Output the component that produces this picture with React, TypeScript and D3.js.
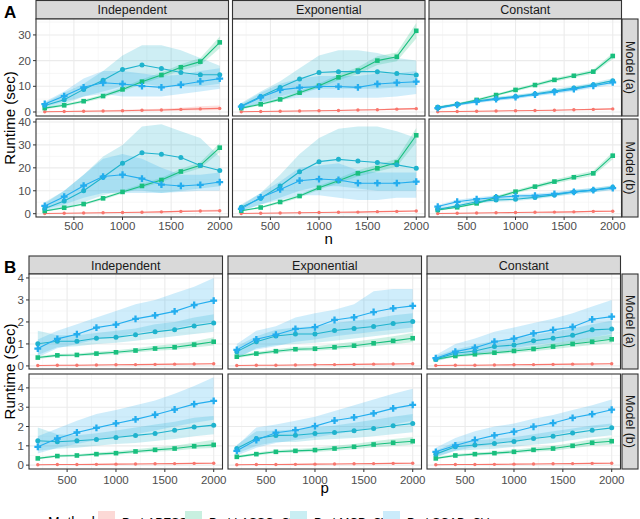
import React from "react";
import * as d3 from "d3";

// x values shared by every panel
const nValues = [200, 400, 600, 800, 1000, 1200, 1400, 1600, 1800, 2000];
const xTicks = [500, 1000, 1500, 2000];
const xMinor = [250, 750, 1250, 1750];
const columns = ["Independent", "Exponential", "Constant"];
const rowLabels = ["Model (a)", "Model (b)"];
const methods = ["ProbAPESS", "ProbLASSO_CV", "ProbMCP_CV", "ProbSCAD_CV"];
const colors = ["#F8766D", "#19BF7E", "#1FB3CD", "#23ADEE"];
const keyFills = ["#FCD9D6", "#C8F0E0", "#C9EEF3", "#CBEBFB"];

const ticksA1 = [0, 10, 20, 30];
const ticksA2 = [0, 10, 20, 30, 40];
const ticksB = [0, 1, 2, 3, 4];

// keys: section_row_column
const bApess = [0.02, 0.03, 0.03, 0.04, 0.05, 0.06, 0.07, 0.08, 0.09, 0.1];
const bApessLo = [0.01, 0.02, 0.02, 0.03, 0.04, 0.04, 0.05, 0.06, 0.07, 0.08];
const bApessHi = [0.03, 0.04, 0.05, 0.06, 0.07, 0.08, 0.09, 0.1, 0.12, 0.13];

const apessMean = {
  A_a_ind: [0.1, 0.2, 0.3, 0.4, 0.5, 0.7, 0.8, 1.0, 1.2, 1.4],
  A_a_exp: [0.1, 0.2, 0.3, 0.4, 0.5, 0.6, 0.8, 0.9, 1.1, 1.3],
  A_a_con: [0.1, 0.2, 0.3, 0.4, 0.5, 0.6, 0.7, 0.9, 1.0, 1.2],
  A_b_ind: [0.1, 0.2, 0.3, 0.4, 0.5, 0.6, 0.8, 1.0, 1.2, 1.3],
  A_b_exp: [0.1, 0.2, 0.3, 0.4, 0.5, 0.6, 0.7, 0.9, 1.0, 1.2],
  A_b_con: [0.1, 0.2, 0.3, 0.4, 0.5, 0.6, 0.7, 0.8, 1.0, 1.1],
  B_a_ind: bApess, B_a_exp: bApess, B_a_con: bApess,
  B_b_ind: bApess, B_b_exp: bApess, B_b_con: bApess,
};
const apessLo = {
  A_a_ind: [0.0, 0.05, 0.1, 0.15, 0.2, 0.3, 0.4, 0.5, 0.6, 0.7],
  A_a_exp: [0, 0.1, 0.2, 0.25, 0.35, 0.45, 0.55, 0.65, 0.8, 0.9],
  A_a_con: [0, 0.1, 0.2, 0.3, 0.4, 0.45, 0.55, 0.7, 0.8, 0.95],
  A_b_ind: [0, 0.1, 0.2, 0.25, 0.35, 0.45, 0.55, 0.7, 0.85, 0.9],
  A_b_exp: [0, 0.1, 0.2, 0.3, 0.35, 0.45, 0.5, 0.65, 0.75, 0.9],
  A_b_con: [0, 0.1, 0.2, 0.3, 0.35, 0.45, 0.5, 0.6, 0.75, 0.85],
  B_a_ind: bApessLo, B_a_exp: bApessLo, B_a_con: bApessLo,
  B_b_ind: bApessLo, B_b_exp: bApessLo, B_b_con: bApessLo,
};
const apessHi = {
  A_a_ind: [0.3, 0.4, 0.6, 0.7, 0.9, 1.1, 1.3, 1.7, 2.2, 2.5],
  A_a_exp: [0.2, 0.35, 0.45, 0.6, 0.7, 0.85, 1.05, 1.2, 1.45, 1.7],
  A_a_con: [0.2, 0.3, 0.4, 0.5, 0.65, 0.75, 0.9, 1.1, 1.25, 1.45],
  A_b_ind: [0.2, 0.35, 0.45, 0.6, 0.7, 0.85, 1.1, 1.4, 1.6, 1.8],
  A_b_exp: [0.2, 0.3, 0.4, 0.55, 0.65, 0.8, 0.95, 1.15, 1.3, 1.5],
  A_b_con: [0.2, 0.3, 0.4, 0.5, 0.65, 0.75, 0.9, 1.0, 1.25, 1.35],
  B_a_ind: bApessHi, B_a_exp: bApessHi, B_a_con: bApessHi,
  B_b_ind: bApessHi, B_b_exp: bApessHi, B_b_con: bApessHi,
};

const lassoMean = {
  A_a_ind: [1.5, 2.6, 4.2, 6.2, 8.8, 11.8, 14.4, 17.4, 19.6, 27.1],
  A_a_exp: [1.5, 3.0, 4.9, 7.5, 10.2, 13.5, 16.1, 20.0, 21.5, 31.6],
  A_a_con: [1.7, 3.0, 4.7, 6.6, 8.6, 10.5, 12.5, 14.1, 15.7, 21.8],
  A_b_ind: [1.2, 2.6, 4.2, 6.7, 9.5, 12.1, 14.7, 18.4, 21.1, 28.8],
  A_b_exp: [1.3, 2.7, 5.1, 7.7, 11.3, 14.4, 17.6, 19.8, 22.3, 34.2],
  A_b_con: [1.6, 2.8, 4.5, 7.1, 9.6, 11.8, 14.0, 15.9, 17.6, 25.3],
  B_a_ind: [0.38, 0.48, 0.5, 0.56, 0.62, 0.7, 0.79, 0.85, 0.97, 1.1],
  B_a_exp: [0.42, 0.56, 0.67, 0.76, 0.78, 0.85, 0.92, 1.03, 1.14, 1.26],
  B_a_con: [0.3, 0.45, 0.53, 0.6, 0.68, 0.77, 0.88, 1.0, 1.1, 1.21],
  B_b_ind: [0.35, 0.47, 0.5, 0.57, 0.62, 0.71, 0.79, 0.86, 0.98, 1.05],
  B_b_exp: [0.43, 0.57, 0.69, 0.74, 0.78, 0.86, 0.95, 1.07, 1.16, 1.24],
  B_b_con: [0.35, 0.5, 0.57, 0.62, 0.69, 0.79, 0.86, 1.0, 1.16, 1.24],
};
const lassoLo = {
  A_a_ind: [1.1, 2.1, 3.6, 5.5, 8.0, 10.9, 13.4, 16.2, 18.2, 24.8],
  A_a_exp: [1.1, 2.5, 4.3, 6.8, 9.3, 12.4, 14.8, 18.3, 19.8, 28.6],
  A_a_con: [1.4, 2.6, 4.2, 6.1, 8.0, 9.9, 11.8, 13.4, 14.9, 20.6],
  A_b_ind: [0.9, 2.2, 3.7, 6.1, 8.8, 11.3, 13.7, 17.2, 19.8, 26.8],
  A_b_exp: [1.0, 2.3, 4.5, 7.0, 10.4, 13.3, 16.2, 18.3, 20.6, 31.0],
  A_b_con: [1.3, 2.4, 4.0, 6.5, 8.9, 11.0, 13.1, 14.9, 16.5, 23.8],
  B_a_ind: [0.32, 0.42, 0.44, 0.49, 0.54, 0.61, 0.69, 0.74, 0.84, 0.93],
  B_a_exp: [0.36, 0.49, 0.59, 0.67, 0.69, 0.75, 0.81, 0.9, 0.99, 1.08],
  B_a_con: [0.25, 0.39, 0.46, 0.52, 0.59, 0.67, 0.76, 0.86, 0.95, 1.03],
  B_b_ind: [0.3, 0.41, 0.44, 0.5, 0.54, 0.62, 0.69, 0.75, 0.85, 0.89],
  B_b_exp: [0.37, 0.5, 0.61, 0.65, 0.68, 0.75, 0.82, 0.92, 0.99, 1.05],
  B_b_con: [0.3, 0.43, 0.5, 0.54, 0.6, 0.69, 0.75, 0.87, 1.0, 1.06],
};
const lassoHi = {
  A_a_ind: [1.9, 3.1, 4.8, 6.9, 9.6, 12.7, 15.4, 18.6, 21.0, 29.4],
  A_a_exp: [1.9, 3.5, 5.5, 8.2, 11.1, 14.6, 17.4, 21.7, 23.2, 34.6],
  A_a_con: [2.0, 3.4, 5.2, 7.1, 9.2, 11.1, 13.2, 14.8, 16.5, 23.0],
  A_b_ind: [1.5, 3.0, 4.7, 7.3, 10.2, 12.9, 15.7, 19.6, 22.4, 30.8],
  A_b_exp: [1.6, 3.1, 5.7, 8.4, 12.2, 15.5, 19.0, 21.3, 24.0, 37.4],
  A_b_con: [1.9, 3.2, 5.0, 7.7, 10.3, 12.6, 14.9, 16.9, 18.7, 26.8],
  B_a_ind: [0.44, 0.54, 0.57, 0.64, 0.71, 0.8, 0.92, 1.0, 1.12, 1.3],
  B_a_exp: [0.48, 0.63, 0.76, 0.86, 0.9, 1.0, 1.1, 1.22, 1.35, 1.5],
  B_a_con: [0.35, 0.52, 0.61, 0.69, 0.79, 0.9, 1.03, 1.17, 1.3, 1.42],
  B_b_ind: [0.41, 0.54, 0.57, 0.65, 0.72, 0.82, 0.92, 1.01, 1.16, 1.32],
  B_b_exp: [0.5, 0.65, 0.78, 0.84, 0.9, 1.0, 1.1, 1.24, 1.36, 1.46],
  B_b_con: [0.41, 0.58, 0.65, 0.71, 0.8, 0.91, 1.0, 1.16, 1.34, 1.44],
};

const mcpMean = {
  A_a_ind: [2.5, 4.8, 8.8, 12.4, 16.5, 18.3, 16.9, 15.4, 14.5, 14.5],
  A_a_exp: [2.3, 6.0, 9.5, 12.8, 15.4, 15.7, 15.7, 15.7, 15.0, 14.4],
  A_a_con: [1.8, 3.0, 4.3, 5.2, 6.0, 7.0, 8.2, 9.3, 10.6, 12.2],
  A_b_ind: [2.3, 5.5, 10.0, 15.9, 22.0, 26.6, 25.9, 24.5, 21.0, 18.8],
  A_b_exp: [2.8, 6.7, 12.1, 18.3, 22.7, 23.7, 23.0, 22.3, 21.3, 19.8],
  A_b_con: [1.9, 3.4, 5.2, 6.0, 6.3, 7.1, 8.2, 9.5, 10.3, 11.5],
  B_a_ind: [1.01, 1.12, 1.12, 1.26, 1.3, 1.42, 1.55, 1.65, 1.82, 1.95],
  B_a_exp: [0.65, 1.1, 1.36, 1.45, 1.45, 1.61, 1.7, 1.79, 1.93, 2.02],
  B_a_con: [0.32, 0.58, 0.68, 0.88, 0.95, 1.14, 1.26, 1.39, 1.64, 1.68],
  B_b_ind: [1.26, 1.21, 1.26, 1.33, 1.43, 1.54, 1.64, 1.81, 1.97, 2.07],
  B_b_exp: [0.86, 1.38, 1.54, 1.55, 1.64, 1.69, 1.78, 1.9, 2.04, 2.16],
  B_b_con: [0.57, 0.95, 1.04, 1.12, 1.23, 1.38, 1.5, 1.66, 1.81, 1.93],
};
const mcpLo = {
  A_a_ind: [1.5, 3, 6, 8, 10, 11, 10, 10, 10, 11],
  A_a_exp: [1.2, 3.5, 6, 8, 9, 9, 9, 9, 9.5, 9.5],
  A_a_con: [1.3, 2.5, 3.7, 4.6, 5.3, 6.3, 7.4, 8.5, 9.8, 11.3],
  A_b_ind: [1, 2.5, 5, 8, 10, 10, 9, 10, 11, 12],
  A_b_exp: [1.5, 4, 7, 10, 12, 12, 11, 10, 10, 10],
  A_b_con: [1.3, 2.7, 4.4, 5.2, 5.5, 6.3, 7.4, 8.6, 9.4, 10.6],
  B_a_ind: [0.5, 0.85, 0.9, 1.0, 1.05, 1.15, 1.25, 1.35, 1.45, 1.55],
  B_a_exp: [0.35, 0.8, 0.95, 1.0, 1.05, 1.15, 1.25, 1.35, 1.45, 1.55],
  B_a_con: [0.2, 0.45, 0.5, 0.6, 0.7, 0.8, 0.9, 1.0, 1.15, 1.25],
  B_b_ind: [0.75, 0.85, 0.9, 1.0, 1.1, 1.15, 1.25, 1.35, 1.5, 1.6],
  B_b_exp: [0.6, 1.0, 1.2, 1.2, 1.3, 1.35, 1.4, 1.5, 1.6, 1.7],
  B_b_con: [0.4, 0.75, 0.8, 0.85, 0.95, 1.05, 1.15, 1.3, 1.45, 1.55],
};
const mcpHi = {
  A_a_ind: [3.5, 7.5, 11, 16, 22, 26, 26, 24, 21, 18],
  A_a_exp: [3.5, 8, 12, 17, 22, 24, 24, 23, 21, 20],
  A_a_con: [2.3, 3.5, 4.9, 5.9, 6.7, 7.7, 9.0, 10.1, 11.4, 13.1],
  A_b_ind: [5, 10, 17, 25, 30, 38, 39, 36, 33, 25],
  A_b_exp: [4, 9, 17, 26, 33, 37, 38, 38, 36, 33],
  A_b_con: [2.5, 4.1, 6.0, 6.8, 7.1, 7.9, 9.0, 10.4, 11.2, 12.4],
  B_a_ind: [1.6, 1.4, 1.4, 1.5, 1.6, 1.7, 1.9, 2.0, 2.2, 2.35],
  B_a_exp: [0.9, 1.35, 1.65, 1.75, 1.8, 1.95, 2.05, 2.15, 2.3, 2.4],
  B_a_con: [0.45, 0.75, 0.95, 1.15, 1.25, 1.4, 1.55, 1.7, 1.9, 2.05],
  B_b_ind: [1.95, 1.6, 1.55, 1.65, 1.8, 1.95, 2.1, 2.25, 2.45, 2.55],
  B_b_exp: [1.05, 1.75, 1.8, 1.85, 1.95, 2.05, 2.2, 2.35, 2.5, 2.65],
  B_b_con: [0.75, 1.2, 1.3, 1.35, 1.45, 1.6, 1.75, 1.9, 2.05, 2.15],
};

const scadMean = {
  A_a_ind: [3.1, 6.2, 9.6, 11.4, 10.9, 10.1, 9.6, 10.6, 11.9, 13.0],
  A_a_exp: [2.1, 5.7, 8.6, 9.5, 9.9, 9.9, 9.6, 10.9, 11.4, 11.8],
  A_a_con: [1.5, 2.8, 4.0, 5.0, 5.8, 6.8, 7.8, 8.9, 10.2, 11.5],
  A_b_ind: [3.4, 7.4, 12.2, 16.2, 17.0, 15.3, 12.7, 12.1, 12.6, 13.8],
  A_b_exp: [2.1, 7.1, 10.6, 14.4, 15.1, 14.7, 13.3, 13.3, 13.3, 14.0],
  A_b_con: [3.1, 5.2, 6.3, 7.1, 7.7, 7.9, 8.6, 9.5, 10.3, 11.2],
  B_a_ind: [0.79, 1.23, 1.44, 1.74, 1.88, 2.14, 2.3, 2.48, 2.77, 2.97],
  B_a_exp: [0.73, 1.21, 1.42, 1.68, 1.76, 2.09, 2.21, 2.45, 2.62, 2.73],
  B_a_con: [0.35, 0.65, 0.83, 1.1, 1.24, 1.48, 1.64, 1.77, 2.12, 2.24],
  B_b_ind: [0.95, 1.38, 1.69, 1.93, 2.16, 2.37, 2.61, 2.88, 3.16, 3.33],
  B_b_exp: [0.74, 1.3, 1.68, 1.81, 2.02, 2.31, 2.47, 2.68, 2.94, 3.12],
  B_b_con: [0.69, 1.02, 1.3, 1.54, 1.73, 1.99, 2.18, 2.45, 2.64, 2.87],
};
const scadLo = {
  A_a_ind: [2, 4, 6, 7, 6, 6, 6, 7, 8, 9],
  A_a_exp: [1, 3.5, 5, 5.5, 5.5, 5.5, 5.5, 5.5, 6, 7],
  A_a_con: [1.0, 2.3, 3.4, 4.4, 5.1, 6.1, 7.0, 8.1, 9.3, 10.6],
  A_b_ind: [2, 4, 7, 9, 9, 9, 9, 9.5, 10, 10],
  A_b_exp: [1, 4, 6, 8, 8, 7, 6, 6, 7, 7],
  A_b_con: [2.4, 4.3, 5.4, 6.2, 6.8, 7.0, 7.7, 8.6, 9.4, 10.2],
  B_a_ind: [0.4, 0.8, 1.0, 1.2, 1.3, 1.5, 1.6, 1.7, 1.9, 2.0],
  B_a_exp: [0.4, 0.75, 0.9, 1.1, 1.2, 1.35, 1.45, 1.55, 1.65, 1.75],
  B_a_con: [0.25, 0.45, 0.55, 0.7, 0.8, 0.95, 1.05, 1.15, 1.3, 1.45],
  B_b_ind: [0.6, 0.9, 1.1, 1.3, 1.45, 1.6, 1.8, 2.0, 2.2, 2.35],
  B_b_exp: [0.5, 0.9, 1.15, 1.3, 1.45, 1.6, 1.75, 1.95, 2.1, 2.3],
  B_b_con: [0.45, 0.75, 0.95, 1.1, 1.25, 1.4, 1.55, 1.75, 1.9, 2.05],
};
const scadHi = {
  A_a_ind: [4, 8, 13, 16, 16, 15, 14, 14.5, 16, 17],
  A_a_exp: [3, 7.5, 11, 13, 14, 14, 14, 15, 15, 16],
  A_a_con: [2.0, 3.3, 4.6, 5.6, 6.5, 7.5, 8.6, 9.7, 11.1, 12.4],
  A_b_ind: [4.5, 10, 17, 24, 26, 24, 20, 17, 17, 18],
  A_b_exp: [3.5, 9, 14, 20, 21, 22, 19, 18, 18, 18],
  A_b_con: [3.8, 6.1, 7.2, 8.0, 8.6, 8.8, 9.5, 10.4, 11.2, 12.2],
  B_a_ind: [1.2, 1.6, 1.9, 2.2, 2.5, 2.8, 3.0, 3.3, 3.6, 4.0],
  B_a_exp: [1.0, 1.6, 1.8, 2.2, 2.4, 2.55, 2.8, 3.4, 3.5, 3.5],
  B_a_con: [0.5, 1.0, 1.25, 1.55, 1.75, 1.95, 2.15, 2.4, 2.7, 3.0],
  B_b_ind: [1.5, 1.9, 2.3, 2.65, 2.85, 3.1, 3.35, 3.7, 4.1, 4.55],
  B_b_exp: [1.0, 1.95, 2.1, 2.3, 2.5, 2.8, 3.1, 3.4, 3.7, 3.95],
  B_b_con: [0.9, 1.4, 1.75, 2.0, 2.15, 2.4, 2.6, 2.85, 3.1, 3.4],
};

const means = [apessMean, lassoMean, mcpMean, scadMean];
const lows = [apessLo, lassoLo, mcpLo, scadLo];
const highs = [apessHi, lassoHi, mcpHi, scadHi];
const colKeys = ["ind", "exp", "con"];

const FONT = "'Liberation Sans', Arial, sans-serif";

const sections = [
  {
    id: "A",
    letterY: 18,
    colLefts: [36, 232.5, 429],
    width: 192.5,
    stripTop: 0.5,
    rows: [
      { key: "a", top: 19, bottom: 116, domain: [-1.56, 36.2], ticks: ticksA1 },
      { key: "b", top: 119, bottom: 217, domain: [-1.44, 41.3], ticks: ticksA2 },
    ],
    tickLabelY: 229.5,
    xTitle: "n",
    xTitleY: 243.5,
    yTitle: "Runtime (sec)",
  },
  {
    id: "B",
    letterY: 273,
    colLefts: [29, 228, 427],
    width: 193.5,
    stripTop: 256,
    rows: [
      { key: "a", top: 274, bottom: 369, domain: [-0.14, 4.18], ticks: ticksB },
      { key: "b", top: 374, bottom: 469, domain: [-0.2, 4.72], ticks: ticksB },
    ],
    tickLabelY: 483.5,
    xTitle: "p",
    xTitleY: 493,
    yTitle: "Runtime (Sec)",
  },
];

const Marker = ({ m, x, y, color }) => {
  if (m === 0) return <circle cx={x} cy={y} r={1.7} fill={color} />;
  if (m === 1) return <rect x={x - 2.3} y={y - 2.3} width={4.6} height={4.6} fill={color} />;
  if (m === 2) return <circle cx={x} cy={y} r={2.5} fill={color} />;
  return (
    <path
      transform={`translate(${x},${y})`}
      d={d3.symbol(d3.symbolCross, 26)()}
      fill={color}
    />
  );
};

const Panel = ({ sec, row, ci }) => {
  const left = sec.colLefts[ci];
  const x = d3.scaleLinear().domain([110, 2090]).range([left, left + sec.width]);
  const y = d3.scaleLinear().domain(row.domain).range([row.bottom, row.top]);
  const key = `${sec.id}_${row.key}_${colKeys[ci]}`;
  const minorY = [];
  for (let i = 0; i < row.ticks.length; i++) {
    const step = row.ticks[1] - row.ticks[0];
    const v = row.ticks[i] + step / 2;
    if (v < row.domain[1]) minorY.push(v);
  }
  const line = d3
    .line<number>()
    .x((_, i) => x(nValues[i]))
    .y((d) => y(d));
  return (
    <g>
      <rect x={left} y={row.top} width={sec.width} height={row.bottom - row.top} fill="#fff" />
      {minorY.map((v) => (
        <line key={"my" + v} x1={left} x2={left + sec.width} y1={y(v)} y2={y(v)} stroke="#F2F2F2" strokeWidth={0.6} />
      ))}
      {xMinor.map((v) => (
        <line key={"mx" + v} x1={x(v)} x2={x(v)} y1={row.top} y2={row.bottom} stroke="#F2F2F2" strokeWidth={0.6} />
      ))}
      {row.ticks.map((v) => (
        <line key={"gy" + v} x1={left} x2={left + sec.width} y1={y(v)} y2={y(v)} stroke="#EBEBEB" strokeWidth={1.1} />
      ))}
      {xTicks.map((v) => (
        <line key={"gx" + v} x1={x(v)} x2={x(v)} y1={row.top} y2={row.bottom} stroke="#EBEBEB" strokeWidth={1.1} />
      ))}
      {methods.map((_, m) => {
        const area = d3
          .area<number>()
          .x((_, i) => x(nValues[i]))
          .y0((_, i) => y(lows[m][key][i]))
          .y1((d) => y(d));
        return <path key={"band" + m} d={area(highs[m][key])} fill={colors[m]} fillOpacity={0.22} />;
      })}
      {methods.map((_, m) => (
        <path key={"line" + m} d={line(means[m][key])} fill="none" stroke={colors[m]} strokeWidth={1.1} />
      ))}
      {methods.map((_, m) =>
        means[m][key].map((v, i) => (
          <Marker key={`pt${m}-${i}`} m={m} x={x(nValues[i])} y={y(v)} color={colors[m]} />
        ))
      )}
      <rect x={left} y={row.top} width={sec.width} height={row.bottom - row.top} fill="none" stroke="#333" strokeWidth={1.1} />
      {ci === 0 &&
        row.ticks.map((v) => (
          <g key={"yt" + v}>
            <line x1={left - 3} x2={left} y1={y(v)} y2={y(v)} stroke="#333" strokeWidth={1} />
            <text x={left - 5} y={y(v)} dy="0.35em" textAnchor="end" fontSize={11.5} fill="#4D4D4D" fontFamily={FONT}>
              {v}
            </text>
          </g>
        ))}
      {row.key === "b" &&
        xTicks.map((v) => (
          <g key={"xt" + v}>
            <line x1={x(v)} x2={x(v)} y1={row.bottom} y2={row.bottom + 3} stroke="#333" strokeWidth={1} />
            <text x={x(v)} y={sec.tickLabelY} textAnchor="middle" fontSize={11.5} fill="#4D4D4D" fontFamily={FONT}>
              {v}
            </text>
          </g>
        ))}
    </g>
  );
};

const Section = ({ sec }) => {
  const stripH = sec.rows[0].top - sec.stripTop;
  const rightX = 622;
  const midY = (sec.rows[0].top + sec.rows[1].bottom) / 2;
  const midX = (sec.colLefts[0] + sec.colLefts[2] + sec.width) / 2;
  return (
    <g>
      <text x={4} y={sec.letterY} fontSize={17} fontWeight="bold" fontFamily={FONT}>
        {sec.id}
      </text>
      {columns.map((c, ci) => (
        <g key={c}>
          <rect x={sec.colLefts[ci]} y={sec.stripTop} width={sec.width} height={stripH} fill="#D9D9D9" stroke="#333" strokeWidth={1.1} />
          <text x={sec.colLefts[ci] + sec.width / 2} y={sec.stripTop + stripH / 2} dy="0.36em" textAnchor="middle" fontSize={12.5} fill="#1A1A1A" fontFamily={FONT}>
            {c}
          </text>
        </g>
      ))}
      {sec.rows.map((row, ri) => (
        <g key={row.key}>
          <rect x={rightX} y={row.top} width={16} height={row.bottom - row.top} fill="#D9D9D9" stroke="#333" strokeWidth={1.1} />
          <text
            transform={`translate(${rightX + 8},${(row.top + row.bottom) / 2}) rotate(90)`}
            dy="0.36em"
            textAnchor="middle"
            fontSize={12.5}
            fill="#1A1A1A"
            fontFamily={FONT}
          >
            {rowLabels[ri]}
          </text>
          {columns.map((c, ci) => (
            <Panel key={c} sec={sec} row={row} ci={ci} />
          ))}
        </g>
      ))}
      <text x={midX} y={sec.xTitleY} textAnchor="middle" fontSize={15} fontFamily={FONT}>
        {sec.xTitle}
      </text>
      <text transform={`translate(15,${midY}) rotate(-90)`} textAnchor="middle" fontSize={15} fontFamily={FONT}>
        {sec.yTitle}
      </text>
    </g>
  );
};

const legendKeyX = [98, 185, 290, 383];

export default function App() {
  return (
    <svg width={640} height={519} style={{ position: "absolute", left: 0, top: 0, background: "#fff" }}>
      <rect width={640} height={519} fill="#fff" />
      {sections.map((s) => (
        <Section key={s.id} sec={s} />
      ))}
      <g>
        <text x={48} y={527} fontSize={14} fontFamily={FONT}>
          Method
        </text>
        {methods.map((m, i) => (
          <g key={m}>
            <rect x={legendKeyX[i]} y={511} width={17} height={17} fill={keyFills[i]} />
            <text x={legendKeyX[i] + 24} y={527} fontSize={12} fontFamily={FONT}>
              {m}
            </text>
          </g>
        ))}
      </g>
    </svg>
  );
}
